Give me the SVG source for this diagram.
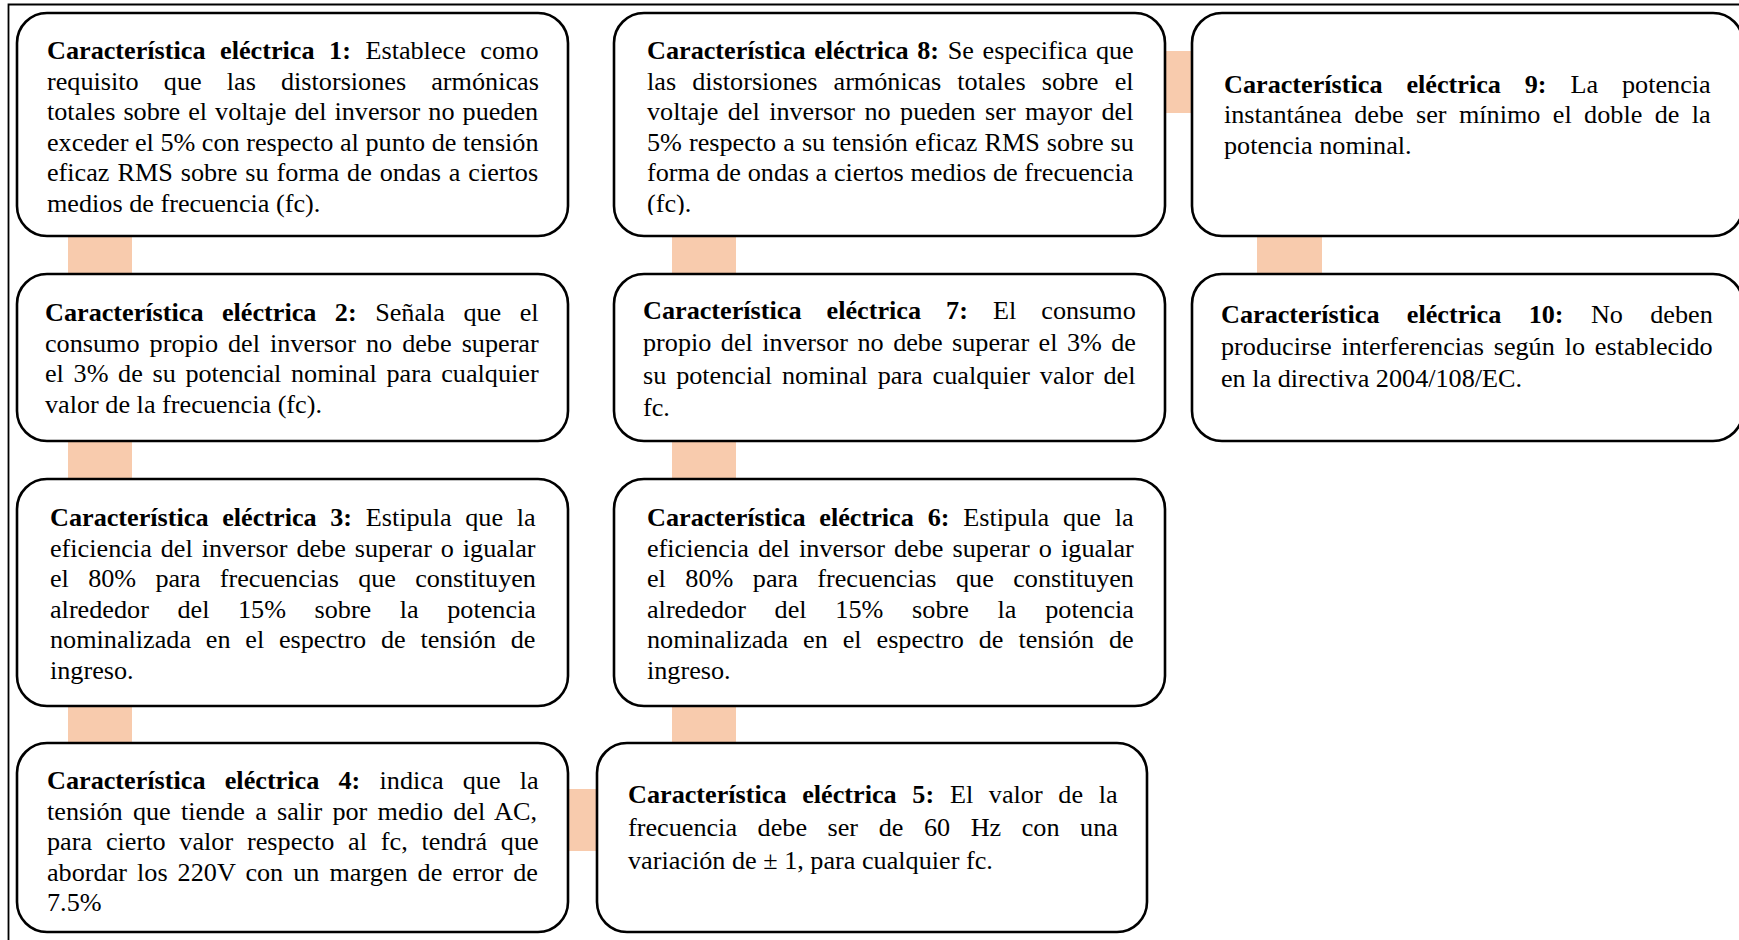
<svg xmlns="http://www.w3.org/2000/svg" width="1739" height="940" viewBox="0 0 1739 940">
<defs>
<style>
.box{fill:#fff;stroke:#000;stroke-width:2.6}
.con{fill:#F8CBAD}
.t{font-family:"Liberation Serif","Times New Roman",serif;font-size:26.2px;fill:#000}
.b{font-weight:bold}
.frame{stroke:#000;stroke-width:1.8;fill:none}
</style>
<clipPath id="clip8"><rect x="614" y="13" width="551" height="202"/></clipPath>
</defs>
<rect width="1739" height="940" fill="#fff"/>
<path class="frame" d="M8.5,940 V4.5 H1739"/>
<g id="connectors">
<rect class="con" x="68" y="236" width="64" height="38"/>
<rect class="con" x="68" y="441" width="64" height="38"/>
<rect class="con" x="68" y="706" width="64" height="37"/>
<rect class="con" x="568" y="789" width="29" height="62"/>
<rect class="con" x="672" y="706" width="64" height="37"/>
<rect class="con" x="672" y="441" width="64" height="38"/>
<rect class="con" x="672" y="236" width="64" height="38"/>
<rect class="con" x="1165" y="51" width="27" height="62"/>
<rect class="con" x="1257" y="236" width="65" height="38"/>
</g>
<g id="node1">
<rect class="box" x="17" y="13" width="551" height="223" rx="30"/>
<text class="t" x="47" y="59" style="word-spacing:8px"><tspan class="b">Característica eléctrica 1:</tspan> Establece como</text>
<text class="t" x="47" y="89.5" style="word-spacing:18.6px">requisito que las distorsiones armónicas</text>
<text class="t" x="47" y="120" style="word-spacing:1.5px">totales sobre el voltaje del inversor no pueden</text>
<text class="t" x="47" y="150.5">exceder el 5% con respecto al punto de tensión</text>
<text class="t" x="47" y="181" style="word-spacing:1.4px">eficaz RMS sobre su forma de ondas a ciertos</text>
<text class="t" x="47" y="211.5">medios de frecuencia (fc).</text>
</g>
<g id="node2">
<rect class="box" x="17" y="274" width="551" height="167" rx="30"/>
<text class="t" x="45" y="321" style="word-spacing:11.9px"><tspan class="b">Característica eléctrica 2:</tspan> Señala que el</text>
<text class="t" x="45" y="351.5" style="word-spacing:3.5px">consumo propio del inversor no debe superar</text>
<text class="t" x="45" y="382" style="word-spacing:3.1px">el 3% de su potencial nominal para cualquier</text>
<text class="t" x="45" y="412.5">valor de la frecuencia (fc).</text>
</g>
<g id="node3">
<rect class="box" x="17" y="479" width="551" height="227" rx="30"/>
<text class="t" x="50" y="526" style="word-spacing:7.1px"><tspan class="b">Característica eléctrica 3:</tspan> Estipula que la</text>
<text class="t" x="50" y="556.5" style="word-spacing:2.4px">eficiencia del inversor debe superar o igualar</text>
<text class="t" x="50" y="587" style="word-spacing:12.7px">el 80% para frecuencias que constituyen</text>
<text class="t" x="50" y="617.5" style="word-spacing:22px">alrededor del 15% sobre la potencia</text>
<text class="t" x="50" y="648" style="word-spacing:8.2px">nominalizada en el espectro de tensión de</text>
<text class="t" x="50" y="678.5">ingreso.</text>
</g>
<g id="node4">
<rect class="box" x="17" y="743" width="551" height="189" rx="30"/>
<text class="t" x="47" y="789" style="word-spacing:12.7px"><tspan class="b">Característica eléctrica 4:</tspan> indica que la</text>
<text class="t" x="47" y="819.5" style="word-spacing:3.7px">tensión que tiende a salir por medio del AC,</text>
<text class="t" x="47" y="850" style="word-spacing:7.3px">para cierto valor respecto al fc, tendrá que</text>
<text class="t" x="47" y="880.5" style="word-spacing:3.5px">abordar los 220V con un margen de error de</text>
<text class="t" x="47" y="911">7.5%</text>
</g>
<g id="node5">
<rect class="box" x="597" y="743" width="550" height="189" rx="30"/>
<text class="t" x="628" y="803" style="word-spacing:9.15px"><tspan class="b">Característica eléctrica 5:</tspan> El valor de la</text>
<text class="t" x="628" y="836" style="word-spacing:14px">frecuencia debe ser de 60 Hz con una</text>
<text class="t" x="628" y="869">variación de ± 1, para cualquier fc.</text>
</g>
<g id="node6">
<rect class="box" x="614" y="479" width="551" height="227" rx="30"/>
<text class="t" x="647" y="526" style="word-spacing:7.3px"><tspan class="b">Característica eléctrica 6:</tspan> Estipula que la</text>
<text class="t" x="647" y="556.5" style="word-spacing:2.6px">eficiencia del inversor debe superar o igualar</text>
<text class="t" x="647" y="587" style="word-spacing:12.9px">el 80% para frecuencias que constituyen</text>
<text class="t" x="647" y="617.5" style="word-spacing:22.2px">alrededor del 15% sobre la potencia</text>
<text class="t" x="647" y="648" style="word-spacing:8.4px">nominalizada en el espectro de tensión de</text>
<text class="t" x="647" y="678.5">ingreso.</text>
</g>
<g id="node7">
<rect class="box" x="614" y="274" width="551" height="167" rx="30"/>
<text class="t" x="643" y="318.5" style="word-spacing:18.5px"><tspan class="b">Característica eléctrica 7:</tspan> El consumo</text>
<text class="t" x="643" y="351" style="word-spacing:2.9px">propio del inversor no debe superar el 3% de</text>
<text class="t" x="643" y="383.5" style="word-spacing:3.3px">su potencial nominal para cualquier valor del</text>
<text class="t" x="643" y="416">fc.</text>
</g>
<g id="node8">
<rect class="box" x="614" y="13" width="551" height="223" rx="30"/>
<g clip-path="url(#clip8)">
<text class="t" x="647" y="59" style="word-spacing:2.1px"><tspan class="b">Característica eléctrica 8:</tspan> Se especifica que</text>
<text class="t" x="647" y="89.5" style="word-spacing:9.6px">las distorsiones armónicas totales sobre el</text>
<text class="t" x="647" y="120" style="word-spacing:2.9px">voltaje del inversor no pueden ser mayor del</text>
<text class="t" x="647" y="150.5" style="word-spacing:0.5px">5% respecto a su tensión eficaz RMS sobre su</text>
<text class="t" x="647" y="181" style="word-spacing:0.2px">forma de ondas a ciertos medios de frecuencia</text>
<text class="t" x="647" y="212">(fc).</text>
</g>
</g>
<g id="node9">
<rect class="box" x="1192" y="13" width="551" height="223" rx="30"/>
<text class="t" x="1224" y="92.5" style="word-spacing:17.35px"><tspan class="b">Característica eléctrica 9:</tspan> La potencia</text>
<text class="t" x="1224" y="123" style="word-spacing:5.85px">instantánea debe ser mínimo el doble de la</text>
<text class="t" x="1224" y="153.5">potencia nominal.</text>
</g>
<g id="node10">
<rect class="box" x="1192" y="274" width="551" height="167" rx="30"/>
<text class="t" x="1221" y="323" style="word-spacing:20.8px"><tspan class="b">Característica eléctrica 10:</tspan> No deben</text>
<text class="t" x="1221" y="355" style="word-spacing:3.3px">producirse interferencias según lo establecido</text>
<text class="t" x="1221" y="387">en la directiva 2004/108/EC.</text>
</g>
</svg>
